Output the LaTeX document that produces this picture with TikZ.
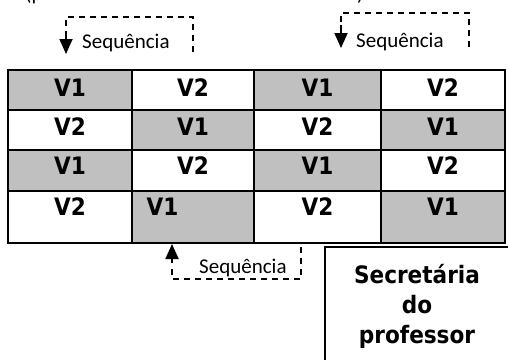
\documentclass[tikz,border=0pt]{standalone}
\usepackage{fontspec}
\setmainfont{Carlito}
\newfontfamily\cellfont[FakeStretch=0.9]{DejaVu Sans Bold}
\usetikzlibrary{arrows.meta}
\definecolor{shade}{HTML}{C0C0C0}
\begin{document}
\begin{tikzpicture}[x=1pt,y=-1pt,
  cellbox/.style={draw, line width=2.4pt, inner sep=0pt, outer sep=0pt},
  celltext/.style={font=\cellfont\fontsize{24}{28}\selectfont, inner sep=0pt},
  seqtext/.style={font=\fontsize{21}{25}\selectfont, inner sep=0pt, anchor=base west},
  dashline/.style={line width=1.8pt, dash pattern=on 6pt off 5pt},
  seqarrow/.style={line width=1.8pt, -{Triangle[length=15pt,width=13pt]}},
  notebox/.style={draw, line width=2pt, inner sep=0pt, outer sep=0pt, anchor=north west,
    minimum width=200pt, minimum height=140pt},
  notetext/.style={font=\cellfont\fontsize{24}{28}\selectfont, inner sep=0pt, anchor=base}]
\useasboundingbox (0,0) rectangle (508,359);

% heading above the grid, mostly cut by the page edge
\node[seqtext] (headl) at (25,0.5) {(p};
\node[seqtext] (headr) at (357,0.5) {)};

% 4x4 grid of cells
\foreach \n/\xa/\ya/\xb/\yb/\f in {
  c11/8/70/132/110/shade,   c12/132/70/254/110/white,  c13/254/70/381/110/shade,  c14/381/70/505/110/white,
  c21/8/110/132/150/white,  c22/132/110/254/150/shade, c23/254/110/381/150/white, c24/381/110/505/150/shade,
  c31/8/150/132/191/shade,  c32/132/150/254/191/white, c33/254/150/381/191/shade, c34/381/150/505/191/white,
  c41/8/191/132/243/white,  c42/132/191/254/243/shade, c43/254/191/381/243/white, c44/381/191/505/243/shade}
  \node[cellbox, fill=\f, minimum width={(\xb-\xa)*1pt}, minimum height={(\yb-\ya)*1pt}]
    (\n) at ({(\xa+\xb)/2},{(\ya+\yb)/2}) {};

% cell labels
\foreach \n/\x/\y/\t in {
  l11/70/88/V1,    l12/193/88/V2,    l13/317.5/88/V1,    l14/443/88/V2,
  l21/70/126.5/V2, l22/193/126.5/V1, l23/317.5/126.5/V2, l24/443/126.5/V1,
  l31/70/165.5/V1, l32/193/165.5/V2, l33/317.5/165.5/V1, l34/443/165.5/V2,
  l41/70/207/V2,   l42/162.5/207/V1, l43/317.5/207/V2,   l44/443/207/V1}
  \node[celltext] (\n) at (\x,\y) {\t};

% sequence markers
\coordinate (s1a) at (66,17);  \coordinate (s1b) at (193,17); \coordinate (s1c) at (193,52);
\coordinate (s1d) at (66,28);  \coordinate (s1e) at (66,31);  \coordinate (s1t) at (66,54);
\draw[dashline] (s1c) -- (s1b) -- (s1a) -- (s1d);
\draw[seqarrow] (s1e) -- (s1t);
\node[seqtext] (q1) at (82,48) {Sequência};

\coordinate (s2a) at (341,13); \coordinate (s2b) at (469,13); \coordinate (s2c) at (469,47);
\coordinate (s2d) at (341,22); \coordinate (s2e) at (341,25); \coordinate (s2t) at (341,48);
\draw[dashline] (s2c) -- (s2b) -- (s2a) -- (s2d);
\draw[seqarrow] (s2e) -- (s2t);
\node[seqtext] (q2) at (356,47) {Sequência};

\coordinate (s3a) at (172,279); \coordinate (s3b) at (301,279); \coordinate (s3c) at (301,247);
\coordinate (s3d) at (172,266); \coordinate (s3e) at (172,263); \coordinate (s3t) at (172,244);
\draw[dashline] (s3c) -- (s3b) -- (s3a) -- (s3d);
\draw[seqarrow] (s3e) -- (s3t);
\node[seqtext] (q3) at (199,273) {Sequência};

% note box
\node[notebox] (note) at (325,247) {};
\node[notetext] (n1) at (417,283) {Secretária};
\node[notetext] (n2) at (417,313) {do};
\node[notetext] (n3) at (417,343) {professor};
\end{tikzpicture}
\end{document}
